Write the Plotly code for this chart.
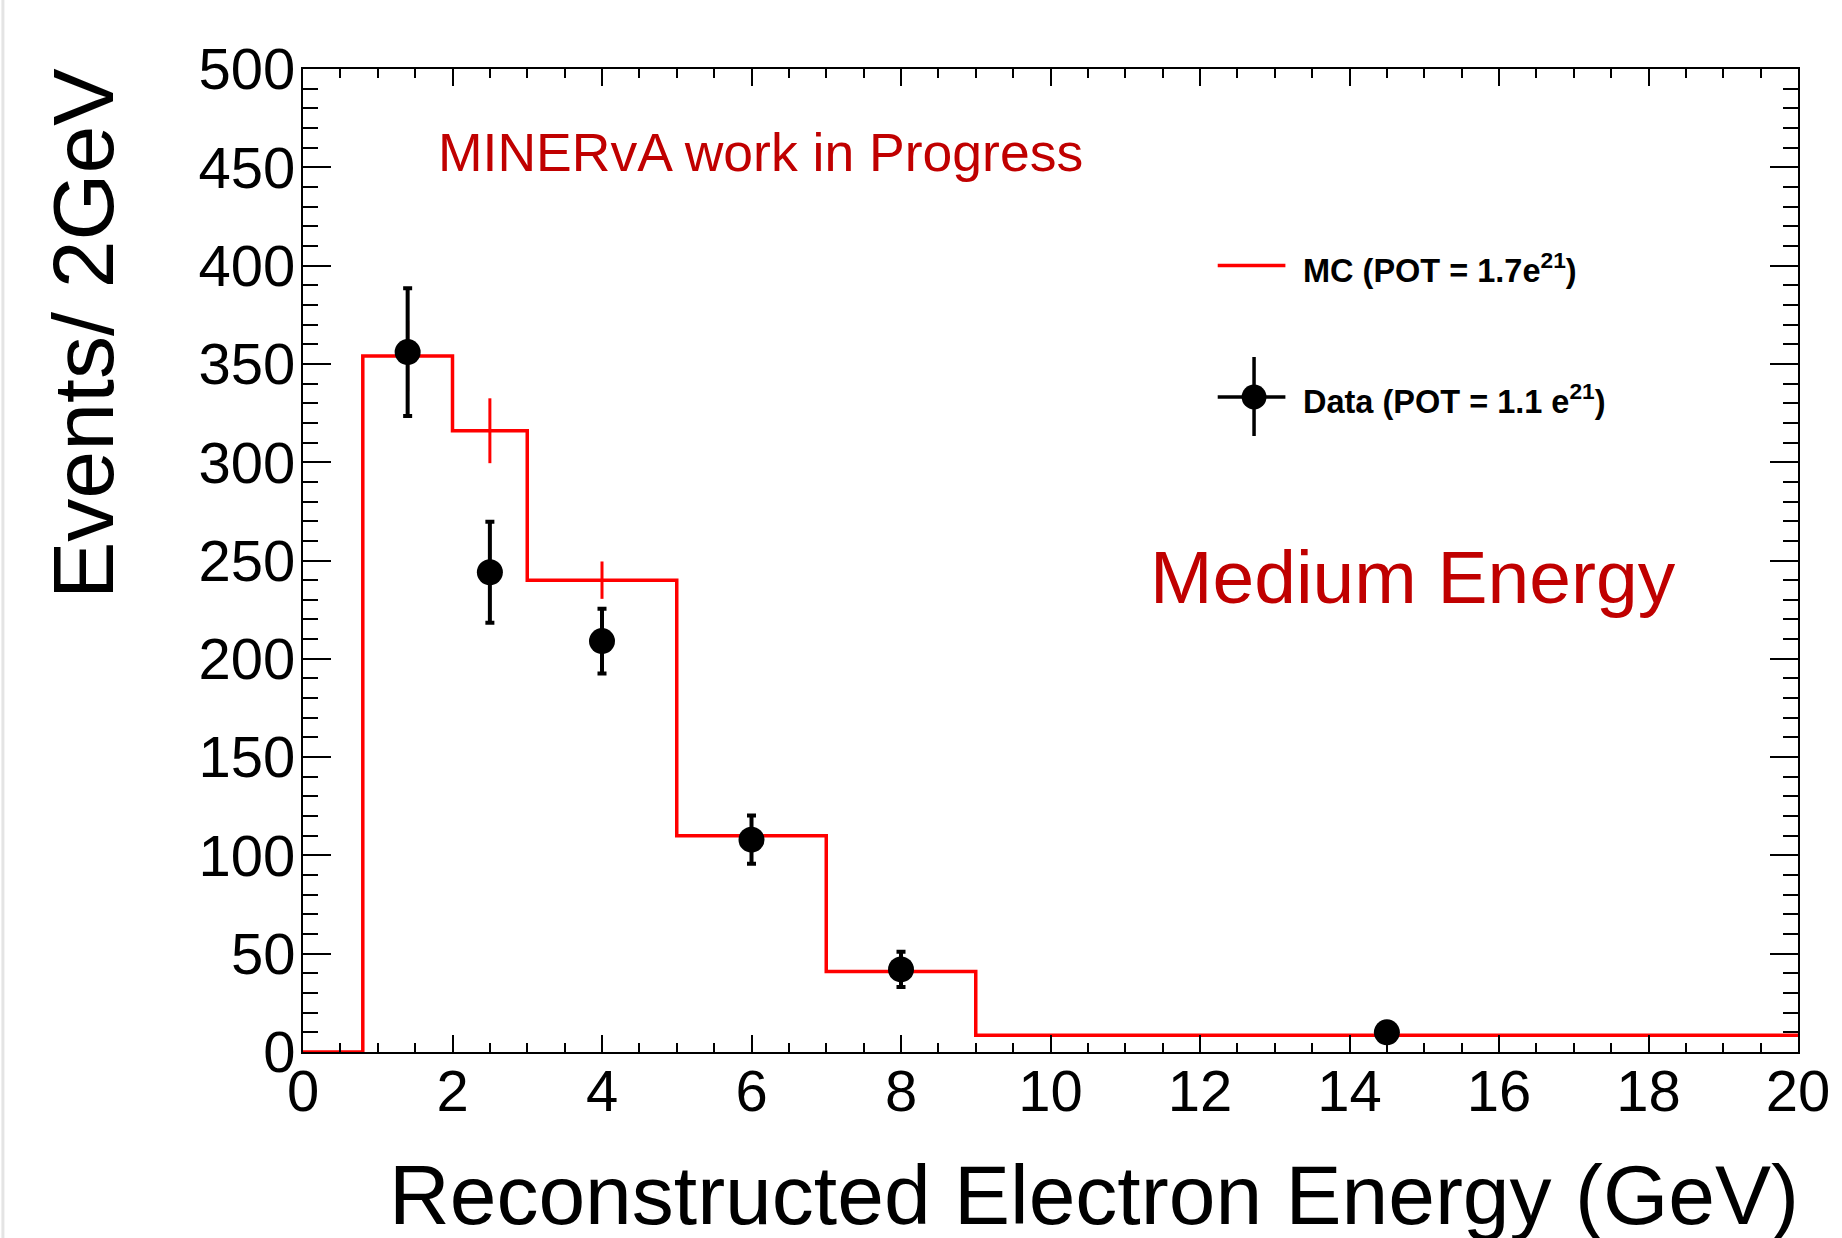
import plotly.graph_objects as go

# Binned MC prediction (bin edges in GeV, content per bin)
mc_edges = [0, 0.8, 2, 3, 5, 7, 9, 20]
mc_counts = [0, 354, 316, 240, 110, 41, 8.5]
mc_centers = [1.4, 2.5, 4, 6, 8, 14.5]
mc_errors = [18, 16.5, 9.5, 6, 3, 1]

# Data points with statistical errors
data_x = [1.4, 2.5, 4, 6, 8, 14.5]
data_y = [356, 244, 209, 108, 42, 10]
data_err = [32.5, 25.7, 16.5, 12.3, 9, 3]

x_ticks = [0, 2, 4, 6, 8, 10, 12, 14, 16, 18, 20]
y_ticks = [0, 50, 100, 150, 200, 250, 300, 350, 400, 450, 500]

W, H = 1842, 1238
L, R, T, B = 303, 1805, 69, 1052
FONT = "Liberation Sans, Arial, Helvetica, sans-serif"
RED_TXT = "#C00000"


def px(xp):
    return (xp - L) / (R - L)


def py(yp):
    return (B - yp) / (B - T)


fig = go.Figure()

# MC histogram as a step line
fig.add_trace(go.Scatter(
    x=mc_edges,
    y=mc_counts + [mc_counts[-1]],
    mode="lines",
    line=dict(color="#FF0000", width=3.5, shape="hv"),
    showlegend=False,
    hoverinfo="skip",
))

# MC error bars (vertical only)
fig.add_trace(go.Scatter(
    x=mc_centers,
    y=mc_counts[1:],
    mode="markers",
    marker=dict(size=1, color="#FF0000"),
    error_y=dict(type="data", array=mc_errors, color="#FF0000",
                 thickness=3, width=0),
    showlegend=False,
))

# Data points
fig.add_trace(go.Scatter(
    x=data_x,
    y=data_y,
    mode="markers",
    marker=dict(size=26, color="black", symbol="circle"),
    error_y=dict(type="data", array=data_err, color="black",
                 thickness=4, width=4.5),
    showlegend=False,
))

axis_common = dict(
    showgrid=False,
    zeroline=False,
    showline=True,
    linecolor="black",
    linewidth=2,
    mirror="allticks",
    ticks="inside",
    tickcolor="black",
    tickwidth=1.5,
    tickfont=dict(family=FONT, size=58, color="black"),
)

fig.update_xaxes(
    range=[0, 20],
    tickvals=x_ticks,
    ticktext=[str(v) for v in x_ticks],
    ticklen=17,
    ticklabelstandoff=-13,
    minor=dict(dtick=0.5, ticks="inside", ticklen=9, tickwidth=1.5,
               tickcolor="black", showgrid=False),
    **axis_common,
)
fig.update_yaxes(
    range=[0, 500],
    tickvals=y_ticks,
    ticktext=[str(v) for v in y_ticks],
    ticklen=28,
    ticklabelstandoff=-6,
    minor=dict(dtick=10, ticks="inside", ticklen=15, tickwidth=1.5,
               tickcolor="black", showgrid=False),
    **axis_common,
)

annotations = [
    # axis titles
    dict(text="Reconstructed Electron Energy (GeV)", x=px(1808), y=py(1195),
         xanchor="right", yanchor="middle",
         font=dict(family=FONT, size=84, color="black")),
    dict(text="Events/ 2GeV", x=px(82), y=py(334), textangle=-90,
         xanchor="center", yanchor="middle",
         font=dict(family=FONT, size=86, color="black")),
    # labels inside the frame
    dict(text="MINERvA work in Progress", x=px(437), y=py(152),
         xanchor="left", yanchor="middle",
         font=dict(family=FONT, size=53.5, color=RED_TXT)),
    dict(text="Medium Energy", x=px(1152), y=py(577),
         xanchor="left", yanchor="middle",
         font=dict(family=FONT, size=75, color=RED_TXT)),
    # legend entries
    dict(text="<b>MC (POT = 1.7e<sup>21</sup>)</b>", x=px(1306), y=py(268),
         xanchor="left", yanchor="middle",
         font=dict(family=FONT, size=32.5, color="black")),
    dict(text="<b>Data (POT = 1.1 e<sup>21</sup>)</b>", x=px(1306), y=py(399),
         xanchor="left", yanchor="middle",
         font=dict(family=FONT, size=32.5, color="black")),
]
for a in annotations:
    a.update(xref="paper", yref="paper", showarrow=False)

shapes = [
    # legend: MC line
    dict(type="line", x0=px(1222), x1=px(1290), y0=py(265.5), y1=py(265.5),
         line=dict(color="#FF0000", width=3.5)),
    # legend: data marker with error cross
    dict(type="line", x0=px(1222), x1=px(1290), y0=py(397), y1=py(397),
         line=dict(color="black", width=3.5)),
    dict(type="line", x0=px(1258.5), x1=px(1258.5), y0=py(357), y1=py(436),
         line=dict(color="black", width=3.5)),
    dict(type="circle", x0=px(1246), x1=px(1271), y0=py(384.5), y1=py(409.5),
         fillcolor="black", line=dict(color="black", width=0)),
    # thin grey strip along the left page edge
    dict(type="rect", x0=px(0), x1=px(3), y0=py(0), y1=py(H),
         fillcolor="#e4e4e4", line=dict(width=0), layer="below"),
]
for s in shapes:
    s.update(xref="paper", yref="paper")

fig.update_layout(
    width=W,
    height=H,
    autosize=False,
    margin=dict(l=L, r=W - R, t=T, b=H - B, pad=0),
    paper_bgcolor="white",
    plot_bgcolor="white",
    showlegend=False,
    annotations=annotations,
    shapes=shapes,
    font=dict(family=FONT),
)

fig.write_html("out.html", config={"displayModeBar": False})
